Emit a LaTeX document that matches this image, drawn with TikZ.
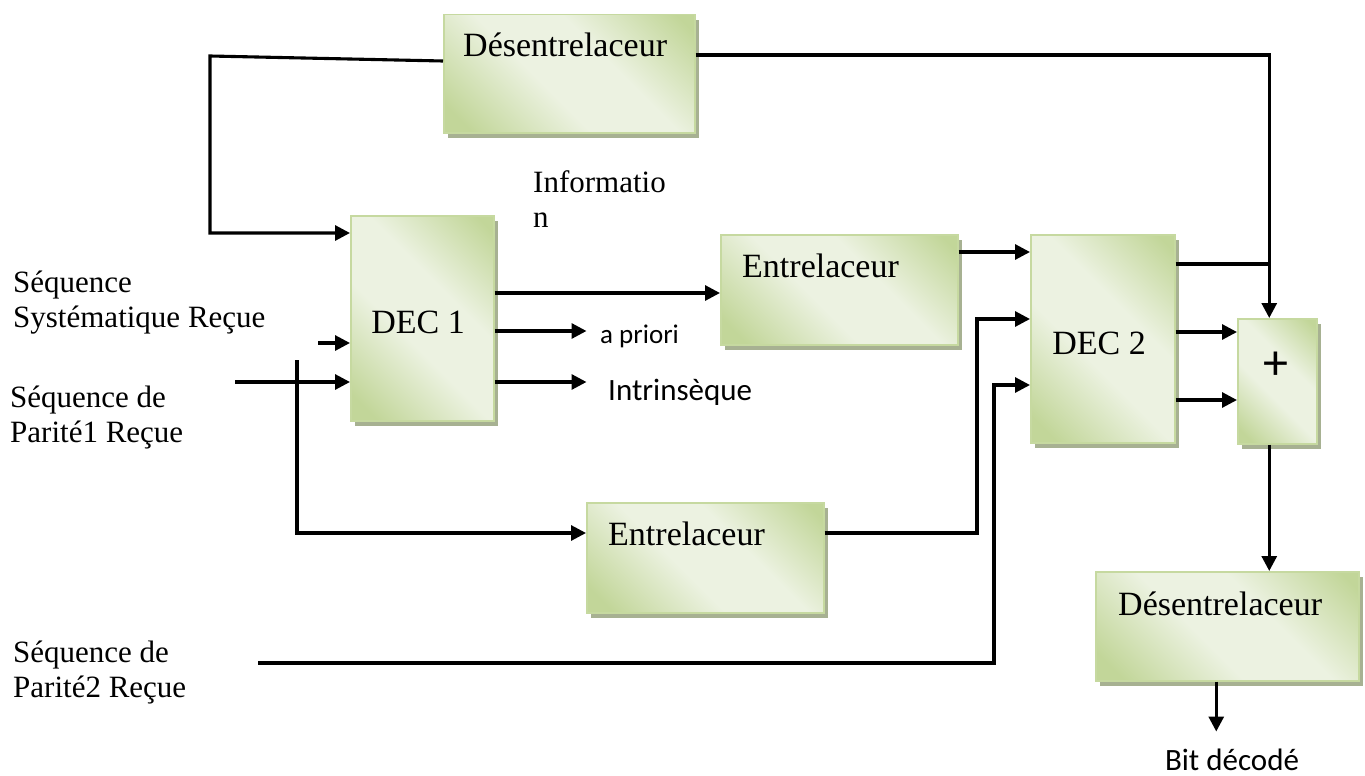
\documentclass[tikz,border=0pt]{standalone}
\usepackage{fontspec}
\setmainfont{Liberation Serif}
\newfontfamily\calibri{Carlito}
\usetikzlibrary{arrows.meta,shadows}
\definecolor{gdark}{HTML}{C2D699}
\definecolor{glight}{HTML}{ECF2E1}
\definecolor{gedge}{HTML}{C6D9A0}
\definecolor{gshadow}{HTML}{A7B192}
% diagonal light band across each block
\pgfdeclarehorizontalshading{boxgrad}{100bp}{color(0bp)=(gdark); color(20bp)=(gdark); color(43bp)=(glight); color(60bp)=(glight); color(82bp)=(gdark); color(100bp)=(gdark)}
\tikzset{
  block/.style={draw=gedge, line width=1.5pt, shading=boxgrad, shading angle=45,
    general shadow={fill=gshadow, shadow xshift=4pt, shadow yshift=-5pt},
    anchor=north west, inner sep=0pt, font=\fontsize{34}{38}\selectfont},
  btxt/.style={font=\fontsize{34}{38}\selectfont, inner sep=0pt, anchor=base west},
  lbl/.style={font=\fontsize{31}{35}\selectfont, align=left, inner sep=0pt, anchor=base west},
  slbl/.style={font=\calibri\fontsize{31}{35}\selectfont, inner sep=0pt, anchor=base west},
  wire/.style={line width=3.1pt},
  arr/.style={wire, -{Triangle[length=15pt,width=15pt]}}
}
\begin{document}
\begin{tikzpicture}[x=1pt,y=-1pt]
\useasboundingbox (0,0) rectangle (1365,776);

% blocks
\node[block, minimum width=251pt, minimum height=118pt] (desA) at (443,14) {};
\node[block, minimum width=143pt, minimum height=205pt] (dec1) at (350,215) {};
\node[block, minimum width=237pt, minimum height=110pt] (ent1) at (720,234) {};
\node[block, minimum width=144pt, minimum height=208pt] (dec2) at (1030,234) {};
\node[block, minimum width=79pt, minimum height=125pt] (plus) at (1237,318) {};
\node[block, minimum width=237pt, minimum height=110pt] (ent2) at (586,502) {};
\node[block, minimum width=263pt, minimum height=109pt] (desB) at (1095,571) {};

% block captions
\node[btxt] (desAt) at (463,57) {Désentrelaceur};
\node[btxt, anchor=center] (dec1t) at (418,322) {DEC 1};
\node[btxt] (ent1t) at (742,277) {Entrelaceur};
\node[btxt, anchor=center] (dec2t) at (1099,343) {DEC 2};
\node[btxt] (ent2t) at (608,545) {Entrelaceur};
\node[btxt] (desBt) at (1118,615) {Désentrelaceur};
\node[font=\calibri\fontsize{50}{54}\selectfont, inner sep=0pt] (plust) at (1276,366) {+};

% side labels (anchored at the baseline of their last line)
\node[lbl] (info) at (533,227) {Informatio\\n};
\node[lbl] (seqS) at (13,327) {Séquence\\Systématique Reçue};
\node[lbl] (seqP1) at (10,442) {Séquence de\\Parité1 Reçue};
\node[lbl] (seqP2) at (13,697) {Séquence de\\Parité2 Reçue};
\node[slbl, font=\calibri\fontsize{27}{30}\selectfont] (apr) at (600,343) {a priori};
\node[slbl] (intr) at (608,400) {Intrinsèque};
\node[slbl, anchor=base] (bit) at (1232,770) {Bit décodé};

% free ends and bends
\coordinate (fbTop) at (210,56);
\coordinate (sysIn) at (318,343);
\coordinate (p1In) at (235,382);
\coordinate (vTop) at (297,360);
\coordinate (bendA) at (977,319);
\coordinate (p2In) at (258,663);
\coordinate (bendB) at (994,385);
\coordinate (plusIn) at ([xshift=-8pt]plus.north);
\coordinate (plusOut) at ([xshift=-8pt]plus.south);
\coordinate (bitOut) at ([xshift=-11pt]desB.south);

% feedback through the top deinterleaver
\draw[arr] ([yshift=-47pt]desA.north west) -- (fbTop) |- ([yshift=-18pt]dec1.north west);
\draw[arr] ([yshift=-41pt]desA.north east) -| (plusIn);

% inputs of DEC 1
\draw[arr] (sysIn) -- (sysIn -| dec1.west);
\draw[arr] (p1In) -- (p1In -| dec1.west);
\draw[arr] (vTop) |- ([yshift=-31pt]ent2.north west);

% outputs of DEC 1
\draw[arr] ([yshift=-78pt]dec1.north east) -- ([yshift=-78pt]dec1.north east -| ent1.west);
\draw[arr] ([yshift=-116pt]dec1.north east) -- ++(92,0);
\draw[arr] ([yshift=-167pt]dec1.north east) -- ++(92,0);

% inputs of DEC 2
\draw[arr] ([yshift=-18pt]ent1.north east) -- ([yshift=-18pt]ent1.north east -| dec2.west);
\draw[arr] ([yshift=-31pt]ent2.north east) -| (bendA) -- (bendA -| dec2.west);
\draw[arr] (p2In) -| (bendB) -- (bendB -| dec2.west);

% outputs of DEC 2
\draw[wire] ([yshift=-30pt]dec2.north east) -- ([yshift=-30pt]dec2.north east -| plusIn);
\draw[arr] ([yshift=-98pt]dec2.north east) -- ([yshift=-98pt]dec2.north east -| plus.west);
\draw[arr] ([yshift=-166pt]dec2.north east) -- ([yshift=-166pt]dec2.north east -| plus.west);

% decoded output
\draw[arr] (plusOut) -- (plusOut |- desB.north);
\draw[arr] (bitOut) -- ++(0,50);
\end{tikzpicture}
\end{document}
